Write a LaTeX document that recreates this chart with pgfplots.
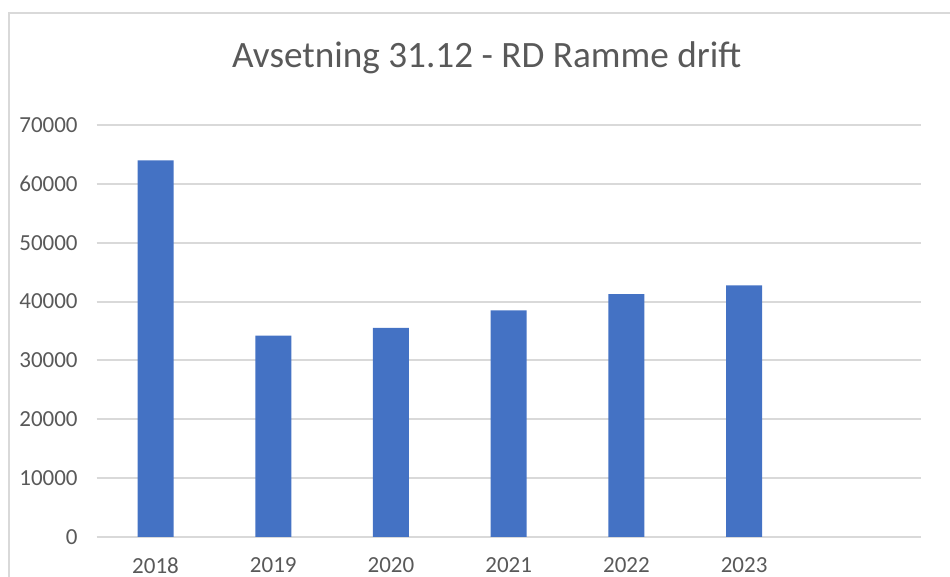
\documentclass[border=0pt]{standalone}
\usepackage{pgfplots}
\pgfplotsset{compat=1.18}
\usepackage{fontspec}
\setmainfont{Carlito}
\definecolor{barblue}{HTML}{4472C4}
\definecolor{gridgray}{HTML}{D9D9D9}
\definecolor{textgray}{HTML}{595959}
\begin{document}
\begin{tikzpicture}
  % 1 px i referansen = 0.5pt
  \path[use as bounding box] (0pt,0pt) rectangle (475pt,288.5pt);
  \begin{scope}
    \clip (0pt,0pt) rectangle (475pt,288.5pt);
    \draw[gridgray, line width=1pt] (4.5pt,-10pt) rectangle (495pt,282pt);
  \end{scope}
  \node[text=textgray, font=\fontsize{18.6}{22}\selectfont] at (243.3pt,259.5pt) {Avsetning 31.12 - RD Ramme drift};
  \begin{axis}[
    at={(48.35pt,20pt)}, anchor=south west,
    scale only axis,
    width=412pt, height=206pt,
    xmin=-0.5, xmax=6.5,
    ymin=0, ymax=70000,
    ytick={0,10000,...,70000},
    xtick={0,...,5},
    xticklabels={2018,2019,2020,2021,2022,2023},
    axis line style={draw=none},
    ymajorgrids,
    grid style={gridgray, line width=1pt},
    major tick length=0pt,
    tick label style={text=textgray, font=\fontsize{11.5}{14}\selectfont},
    /pgf/number format/assume math mode=true,
    scaled y ticks=false,
    yticklabel style={/pgf/number format/1000 sep={}, xshift=-6pt},
    xticklabel style={yshift=-7pt},
    ybar, bar width=0.306,
  ]
    % verdier lest av figuren
    \addplot[fill=barblue, draw=none] coordinates {
      (0,64000)
      (1,34230)
      (2,35540)
      (3,38490)
      (4,41280)
      (5,42740)
    };
  \end{axis}
\end{tikzpicture}
\end{document}
